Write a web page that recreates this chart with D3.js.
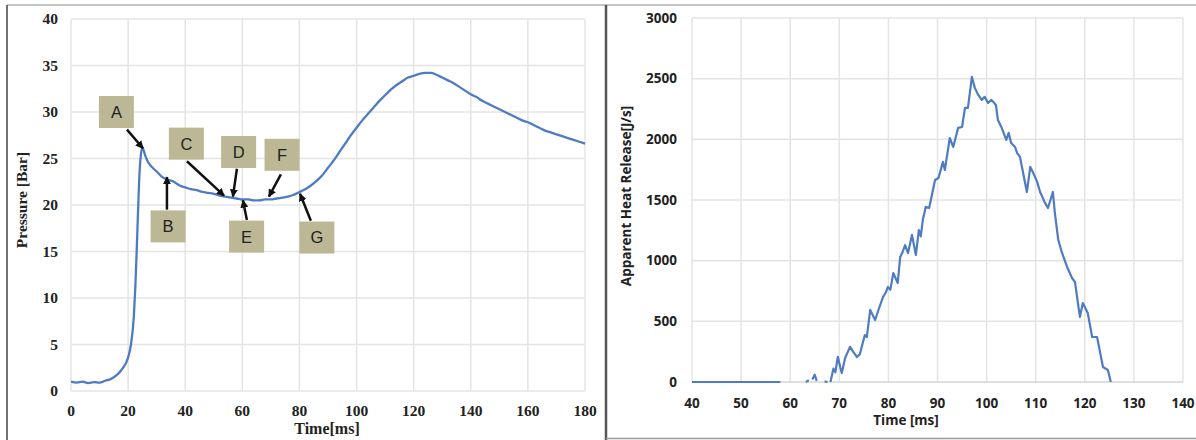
<!DOCTYPE html>
<html><head><meta charset="utf-8">
<script src="https://cdn.jsdelivr.net/npm/d3@7/dist/d3.min.js"></script>
<style>body{margin:0;background:#fff}svg{display:block}</style>
</head><body>
<svg id="c" width="1196" height="440"></svg>
<script>
// ---------- Left chart: pressure ----------
const pTime = [0,2,4,6,8,10,12,14,16,18,20,21,22,22.5,23,23.5,24,24.5,25,26,27,28,30,32,34,36,38,40,42,44,46,48,50,52,54,56,58,60,62,64,66,68,70,72,74,76,78,80,82,84,86,88,90,92,94,96,98,100,102,104,106,108,110,112,114,116,118,120,122,124,126,128,130,132,134,136,138,140,142,144,146,148,150,152,154,156,158,160,162,164,166,168,170,172,174,176,178,180];
const pValue = [1.0,0.9,1.0,0.85,0.95,0.9,1.1,1.3,1.7,2.4,3.6,5.0,8.0,11,15,19.5,23.5,25.5,26.2,25.3,24.6,24.2,23.6,23.0,22.7,22.5,22.1,21.9,21.7,21.6,21.4,21.3,21.2,21.0,20.9,20.8,20.7,20.6,20.6,20.5,20.5,20.6,20.6,20.7,20.8,20.9,21.1,21.4,21.7,22.1,22.6,23.2,24.0,24.8,25.7,26.6,27.5,28.3,29.1,29.8,30.5,31.2,31.8,32.4,32.9,33.3,33.7,33.9,34.1,34.2,34.2,34.0,33.7,33.4,33.1,32.7,32.3,31.9,31.6,31.2,30.9,30.6,30.3,30.0,29.7,29.4,29.1,28.9,28.6,28.3,28.0,27.8,27.6,27.4,27.2,27.0,26.8,26.6];
const pXTicks = [0,20,40,60,80,100,120,140,160,180];
const pYTicks = [0,5,10,15,20,25,30,35,40];
// annotation labels: box centre, arrow tail, arrow head (data coordinates)
const annLabels = ["A","B","C","D","E","F","G"];
const annBox   = [[15.9,30.0],[34.0,17.7],[40.4,26.6],[58.7,25.7],[61.5,16.6],[73.9,25.4],[86.1,16.5]];
const annTail  = [[19.6,28.1],[33.6,19.5],[40.6,24.7],[58.1,23.9],[61.6,18.4],[73.5,23.3],[84.0,18.3]];
const annHead  = [[25.2,26.1],[33.6,23.0],[53.6,21.0],[56.7,20.9],[60.2,20.5],[69.3,20.9],[80.2,21.2]];

// ---------- Right chart: heat release ----------
const hTime = [40,58,null,63.2,63.8,null,64.5,65,65.4,null,67,67.6,null,68.2,68.8,69.2,69.7,70.2,70.5,71.2,72.2,72.8,73.6,74.2,75.2,75.6,76.3,77.3,78.2,78.9,79.5,79.9,80.4,81,81.9,82.4,82.8,83.4,84,84.8,85.6,86.2,86.6,87,87.6,88.3,89.5,90.2,91.1,91.5,92.5,93.2,94.2,95,95.6,96.2,97,97.6,98.3,99,99.6,100.3,101,101.9,102.3,103,104,104.5,105,105.8,106.2,106.8,107.4,108.2,108.9,109.5,110.3,110.9,111.9,112.5,113.5,113.9,114.6,115.3,116.4,117.4,118,119,119.6,120.6,121.5,122.5,123.7,124.7,125.3];
const hValue = [0,0,null,0,15,null,20,60,10,null,5,0,null,0,110,80,208,120,74,200,290,250,206,230,387,370,594,511,620,700,740,783,760,898,816,1030,1063,1129,1063,1212,1047,1253,1200,1336,1443,1434,1665,1681,1814,1748,2011,1937,2094,2102,2259,2259,2515,2424,2366,2325,2350,2300,2325,2283,2160,2102,1995,2053,1970,1937,1888,1855,1731,1566,1773,1723,1649,1566,1476,1434,1566,1393,1170,1072,948,857,824,536,651,569,371,371,124,99,0];
const hXTicks = [40,50,60,70,80,90,100,110,120,130,140];
const hYTicks = [0,500,1000,1500,2000,2500,3000];

const svg = d3.select("#c");
const gridCol = "#e4e4e4", lineCol = "#4f7bc3";

// frame
svg.append("line").attr("x1",7).attr("x2",1196).attr("y1",5).attr("y2",5).attr("stroke","#b0b0b0").attr("stroke-width",1.5);
svg.append("line").attr("x1",7).attr("x2",7).attr("y1",5).attr("y2",440).attr("stroke","#444").attr("stroke-width",1.5);
svg.append("line").attr("x1",606).attr("x2",606).attr("y1",5).attr("y2",440).attr("stroke","#555").attr("stroke-width",2.5);
svg.append("line").attr("x1",606).attr("x2",1196).attr("y1",438.5).attr("y2",438.5).attr("stroke","#999").attr("stroke-width",1.5);

// ----- left -----
const x1 = d3.scaleLinear().domain([0,180]).range([71,585]);
const y1 = d3.scaleLinear().domain([0,40]).range([391,19]);
const L = svg.append("g");
L.append("g").selectAll("line").data(pXTicks).join("line")
  .attr("x1",d=>x1(d)).attr("x2",d=>x1(d)).attr("y1",y1(0)).attr("y2",y1(40))
  .attr("stroke",gridCol).attr("stroke-width",1.5);
L.append("g").selectAll("line").data(pYTicks).join("line")
  .attr("x1",x1(0)).attr("x2",x1(180)).attr("y1",d=>y1(d)).attr("y2",d=>y1(d))
  .attr("stroke",gridCol).attr("stroke-width",1.5);
const serif = "'Liberation Serif','Times New Roman',serif";
L.append("g").selectAll("text").data(pYTicks).join("text")
  .attr("x",58).attr("y",d=>y1(d)).attr("dy","0.35em").attr("text-anchor","end")
  .attr("font-family",serif).attr("font-weight","bold").attr("font-size",15.5).attr("fill","#222").text(d=>d);
L.append("g").selectAll("text").data(pXTicks).join("text")
  .attr("x",d=>x1(d)).attr("y",416).attr("text-anchor","middle")
  .attr("font-family",serif).attr("font-weight","bold").attr("font-size",15.5).attr("fill","#222").text(d=>d);
L.append("text").attr("x",327).attr("y",434).attr("text-anchor","middle")
  .attr("font-family",serif).attr("font-weight","bold").attr("font-size",16).attr("fill","#222").text("Time[ms]");
L.append("text").attr("transform","translate(27,200) rotate(-90)").attr("text-anchor","middle")
  .attr("font-family",serif).attr("font-weight","bold").attr("font-size",15.5).attr("fill","#222").text("Pressure [Bar]");
const line1 = d3.line().x((d,i)=>x1(pTime[i])).y(d=>y1(d)).curve(d3.curveMonotoneX);
L.append("path").attr("d",line1(pValue)).attr("fill","none").attr("stroke",lineCol).attr("stroke-width",2.3);

// annotations
const defs = svg.append("defs");
defs.append("marker").attr("id","ah").attr("viewBox","0 0 10 10").attr("refX",9).attr("refY",5)
  .attr("markerWidth",3.2).attr("markerHeight",3.2).attr("orient","auto")
  .append("path").attr("d","M0,0 L10,5 L0,10 z").attr("fill","#111");
const A = L.append("g");
annLabels.forEach((lab,i)=>{
  const cx = x1(annBox[i][0]), cy = y1(annBox[i][1]);
  A.append("rect").attr("x",cx-17.5).attr("y",cy-16).attr("width",35).attr("height",32).attr("fill","#bcb795");
  A.append("text").attr("x",cx).attr("y",cy).attr("dy","0.36em").attr("text-anchor","middle")
    .attr("font-family","'Liberation Sans',Arial,sans-serif").attr("font-size",16.5).attr("fill","#222").text(lab);
  A.append("line").attr("x1",x1(annTail[i][0])).attr("y1",y1(annTail[i][1]))
    .attr("x2",x1(annHead[i][0])).attr("y2",y1(annHead[i][1]))
    .attr("stroke","#111").attr("stroke-width",2.5).attr("marker-end","url(#ah)");
});

// ----- right -----
const x2 = d3.scaleLinear().domain([40,140]).range([692,1183]);
const y2 = d3.scaleLinear().domain([0,3000]).range([382,18]);
const R = svg.append("g");
R.append("g").selectAll("line").data(hXTicks).join("line")
  .attr("x1",d=>x2(d)).attr("x2",d=>x2(d)).attr("y1",y2(0)).attr("y2",y2(3000))
  .attr("stroke",gridCol).attr("stroke-width",1.5);
R.append("g").selectAll("line").data(hYTicks).join("line")
  .attr("x1",x2(40)).attr("x2",x2(140)).attr("y1",d=>y2(d)).attr("y2",d=>y2(d))
  .attr("stroke",d=>d===0?"#d4d4d4":gridCol).attr("stroke-width",1.5);
const sans = "'Open Sans','Liberation Sans',sans-serif";
R.append("g").selectAll("text").data(hYTicks).join("text")
  .attr("x",677).attr("y",d=>y2(d)).attr("dy","0.35em").attr("text-anchor","end")
  .attr("font-family",sans).attr("font-weight","bold").attr("font-size",13.5).attr("fill","#222").text(d=>d);
R.append("g").selectAll("text").data(hXTicks).join("text")
  .attr("x",d=>x2(d)).attr("y",408).attr("text-anchor","middle")
  .attr("font-family",sans).attr("font-weight","bold").attr("font-size",13.5).attr("fill","#222").text(d=>d);
R.append("text").attr("x",906).attr("y",425).attr("text-anchor","middle")
  .attr("font-family",sans).attr("font-weight","bold").attr("font-size",13.5).attr("fill","#222").text("Time [ms]");
R.append("text").attr("transform","translate(631,196) rotate(-90)").attr("text-anchor","middle")
  .attr("font-family",sans).attr("font-weight","bold").attr("font-size",13.5).attr("fill","#222").text("Apparent Heat Release[J/s]");
const line2 = d3.line().defined((d,i)=>d!==null && hTime[i]!==null).x((d,i)=>x2(hTime[i])).y(d=>y2(d));
R.append("path").attr("d",line2(hValue)).attr("fill","none").attr("stroke",lineCol).attr("stroke-width",2.2).attr("stroke-linejoin","round");
</script>
</body></html>
